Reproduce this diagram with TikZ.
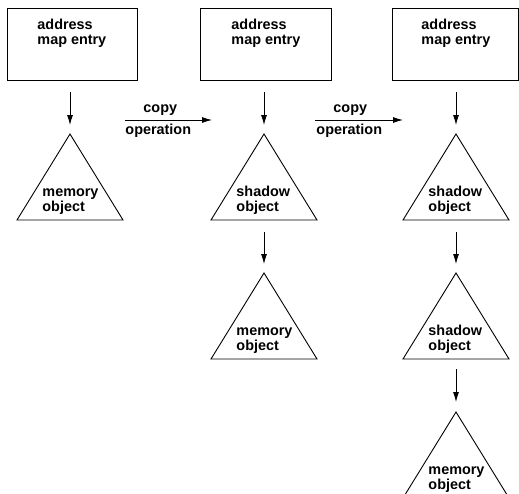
\documentclass[tikz,border=0pt]{standalone}
\usepackage{fontspec}
\setmainfont{Liberation Sans}
\usetikzlibrary{arrows.meta}
\tikzset{
  every picture/.style={line width=0.9pt},
  lbl/.style={font=\fontsize{14.4}{15}\selectfont\bfseries, inner sep=0pt, align=left},
  mapbox/.style={draw, rectangle, inner sep=0pt},
  arr/.style={-{Latex[length=10pt,width=6pt]}},
}
\newcommand\mytri[4]{%
  \coordinate (#1-top) at (#2,#3);
  \coordinate (#1-bot) at (#2,#3+86);
  \draw (#2,#3) -- (#2+53,#3+86) -- (#2-53,#3+86) -- cycle;
  \node[lbl, anchor=base west] (#1) at (#2-28,#3+77) {#4};
}
\begin{document}
\begin{tikzpicture}[x=1pt,y=-1pt]
\useasboundingbox (0,0) rectangle (519,493);
\clip (0,0) rectangle (519,493);
% boxes
\node[mapbox, minimum width=130pt, minimum height=72pt] (b1) at (72,44) {};
\node[mapbox, minimum width=131pt, minimum height=72pt] (b2) at (266,44) {};
\node[mapbox, minimum width=126pt, minimum height=72pt] (b3) at (455,44) {};
\node[lbl, anchor=base west] (t1) at (37,44) {address\\map entry};
\node[lbl, anchor=base west] (t2) at (231,44) {address\\map entry};
\node[lbl, anchor=base west] (t3) at (421,44) {address\\map entry};
% coordinates for vertical arrows
\coordinate (a1s) at (70,92);   \coordinate (a1e) at (70,125);
\coordinate (a2s) at (264,92);  \coordinate (a2e) at (264,125);
\coordinate (a3s) at (456,92);  \coordinate (a3e) at (456,125);
\draw[arr] (a1s) -- (a1e);
\draw[arr] (a2s) -- (a2e);
\draw[arr] (a3s) -- (a3e);
% triangles
\mytri{m1}{70}{134}{memory\\object}
\mytri{s2}{264}{134}{shadow\\object}
\mytri{s3}{456}{134}{shadow\\object}
\mytri{m4}{264}{273}{memory\\object}
\mytri{s5}{456}{273}{shadow\\object}
\mytri{m6}{456}{412}{memory\\object}
% arrows between triangles
\coordinate (c2s) at (264,232); \coordinate (c2e) at (264,264);
\coordinate (c3s) at (456,232); \coordinate (c3e) at (456,264);
\coordinate (c4s) at (456,369); \coordinate (c4e) at (456,402);
\draw[arr] (c2s) -- (c2e);
\draw[arr] (c3s) -- (c3e);
\draw[arr] (c4s) -- (c4e);
% copy operations
\coordinate (o1s) at (125,120); \coordinate (o1e) at (212,120);
\coordinate (o2s) at (315,120); \coordinate (o2e) at (403,120);
\draw[arr] (o1s) -- (o1e);
\draw[arr] (o2s) -- (o2e);
\node[lbl, anchor=base west] (cp1) at (143,112) {copy};
\node[lbl, anchor=base west] (op1) at (125,134) {operation};
\node[lbl, anchor=base west] (cp2) at (333,112) {copy};
\node[lbl, anchor=base west] (op2) at (316,134) {operation};
\end{tikzpicture}
\end{document}
